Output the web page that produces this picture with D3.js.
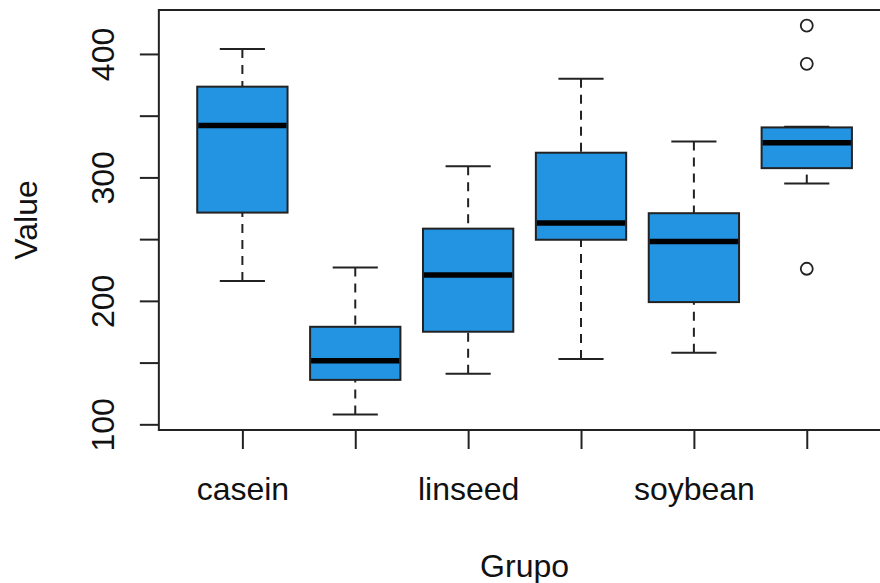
<!DOCTYPE html>
<html>
<head>
<meta charset="utf-8">
<script src="https://cdn.jsdelivr.net/npm/d3@7"></script>
<style>
  html, body { margin: 0; padding: 0; background: #fff; }
  svg { display: block; font-family: "Liberation Sans", Arial, sans-serif; }
</style>
</head>
<body>
<svg width="880" height="583"></svg>
<script>
// chickwts boxplot values, per group
const groups = ["casein", "horsebean", "linseed", "meatmeal", "soybean", "sunflower"];
const whiskerLow = [216, 108, 141, 153, 158, 295];
const boxLow = [271.5, 136, 175, 249.5, 199, 307.5];
const medians = [342, 151.5, 221, 263, 248, 328];
const boxHigh = [373.5, 179, 258.5, 320, 271, 340.5];
const whiskerHigh = [404, 227, 309, 380, 329, 341];
const outliers = [[], [], [], [], [], [423, 392, 226]];
const yTicks = [100, 150, 200, 250, 300, 350, 400];
const yLabels = [100, 200, 300, 400];
const xLabels = ["casein", "linseed", "soybean"];

const svg = d3.select("svg");
const fill = "#2394e2";
const ink = "#222";

const plotLeft = 158.85, plotRight = 890.3, plotTop = 10, plotBottom = 430;

const x = d3.scalePoint()
    .domain(groups)
    .range([plotLeft, plotRight])
    .padding(0.74);

const y = d3.scaleLinear()
    .domain([95.4, 435.6])
    .range([plotBottom, plotTop]);

const step = x.step();
const boxW = 0.8 * step;
const capW = 0.4 * step;

const data = groups.map(function (g, i) {
  return {
    name: g,
    lo: whiskerLow[i], q1: boxLow[i], med: medians[i],
    q3: boxHigh[i], hi: whiskerHigh[i], out: outliers[i]
  };
});

// Axes
const yAxis = d3.axisLeft(y)
    .tickValues(yTicks)
    .tickSize(19)
    .tickFormat(function (d) { return yLabels.indexOf(d) >= 0 ? d : ""; });

const gy = svg.append("g")
    .attr("transform", "translate(" + plotLeft + ",0)")
    .call(yAxis);
gy.select(".domain").remove();
gy.selectAll(".tick line").attr("stroke", ink).attr("stroke-width", 2);
gy.selectAll(".tick text")
    .attr("fill", "#111")
    .style("font-size", "32px")
    .attr("text-anchor", "middle")
    .attr("x", null).attr("dy", null)
    .attr("transform", "translate(-45,0)rotate(-90)");

const xAxis = d3.axisBottom(x)
    .tickSize(19)
    .tickFormat(function (d) { return xLabels.indexOf(d) >= 0 ? d : ""; });

const gx = svg.append("g")
    .attr("transform", "translate(0," + plotBottom + ")")
    .call(xAxis);
gx.select(".domain").remove();
gx.selectAll(".tick line").attr("stroke", ink).attr("stroke-width", 2);
gx.selectAll(".tick text")
    .attr("fill", "#111")
    .style("font-size", "32px")
    .attr("y", 70).attr("dy", null);

// Whiskers
const boxes = svg.selectAll("g.box")
    .data(data).enter()
    .append("g")
    .attr("class", "box")
    .attr("transform", function (d) { return "translate(" + x(d.name) + ",0)"; });

boxes.append("line")
    .attr("y1", function (d) { return y(d.lo); })
    .attr("y2", function (d) { return y(d.q1); })
    .attr("stroke", ink).attr("stroke-width", 2).attr("stroke-dasharray", "9,7");
boxes.append("line")
    .attr("y1", function (d) { return y(d.hi); })
    .attr("y2", function (d) { return y(d.q3); })
    .attr("stroke", ink).attr("stroke-width", 2).attr("stroke-dasharray", "9,7");

boxes.append("line")
    .attr("x1", -capW / 2).attr("x2", capW / 2)
    .attr("y1", function (d) { return y(d.lo); })
    .attr("y2", function (d) { return y(d.lo); })
    .attr("stroke", ink).attr("stroke-width", 2);
boxes.append("line")
    .attr("x1", -capW / 2).attr("x2", capW / 2)
    .attr("y1", function (d) { return y(d.hi); })
    .attr("y2", function (d) { return y(d.hi); })
    .attr("stroke", ink).attr("stroke-width", 2);

// Boxes
boxes.append("rect")
    .attr("x", -boxW / 2)
    .attr("width", boxW)
    .attr("y", function (d) { return y(d.q3); })
    .attr("height", function (d) { return y(d.q1) - y(d.q3); })
    .attr("fill", fill)
    .attr("stroke", ink)
    .attr("stroke-width", 2);

boxes.append("line")
    .attr("x1", -boxW / 2 + 1).attr("x2", boxW / 2 - 1)
    .attr("y1", function (d) { return y(d.med); })
    .attr("y2", function (d) { return y(d.med); })
    .attr("stroke", "#000").attr("stroke-width", 5.5);

// Outliers
boxes.selectAll("circle")
    .data(function (d) { return d.out; }).enter()
    .append("circle")
    .attr("cy", function (d) { return y(d); })
    .attr("r", 6)
    .attr("fill", "none")
    .attr("stroke", ink)
    .attr("stroke-width", 1.8);

// Frame
svg.append("rect")
    .attr("x", plotLeft).attr("y", plotTop)
    .attr("width", plotRight - plotLeft).attr("height", plotBottom - plotTop)
    .attr("fill", "none")
    .attr("stroke", ink)
    .attr("stroke-width", 2);

// Axis titles
svg.append("text")
    .attr("x", plotLeft + (plotRight - plotLeft) / 2)
    .attr("y", 577)
    .attr("text-anchor", "middle")
    .attr("fill", "#111")
    .style("font-size", "32px")
    .text("Grupo");

svg.append("text")
    .attr("transform", "translate(37," + (plotTop + plotBottom) / 2 + ")rotate(-90)")
    .attr("text-anchor", "middle")
    .attr("fill", "#111")
    .style("font-size", "32px")
    .text("Value");
</script>
</body>
</html>
